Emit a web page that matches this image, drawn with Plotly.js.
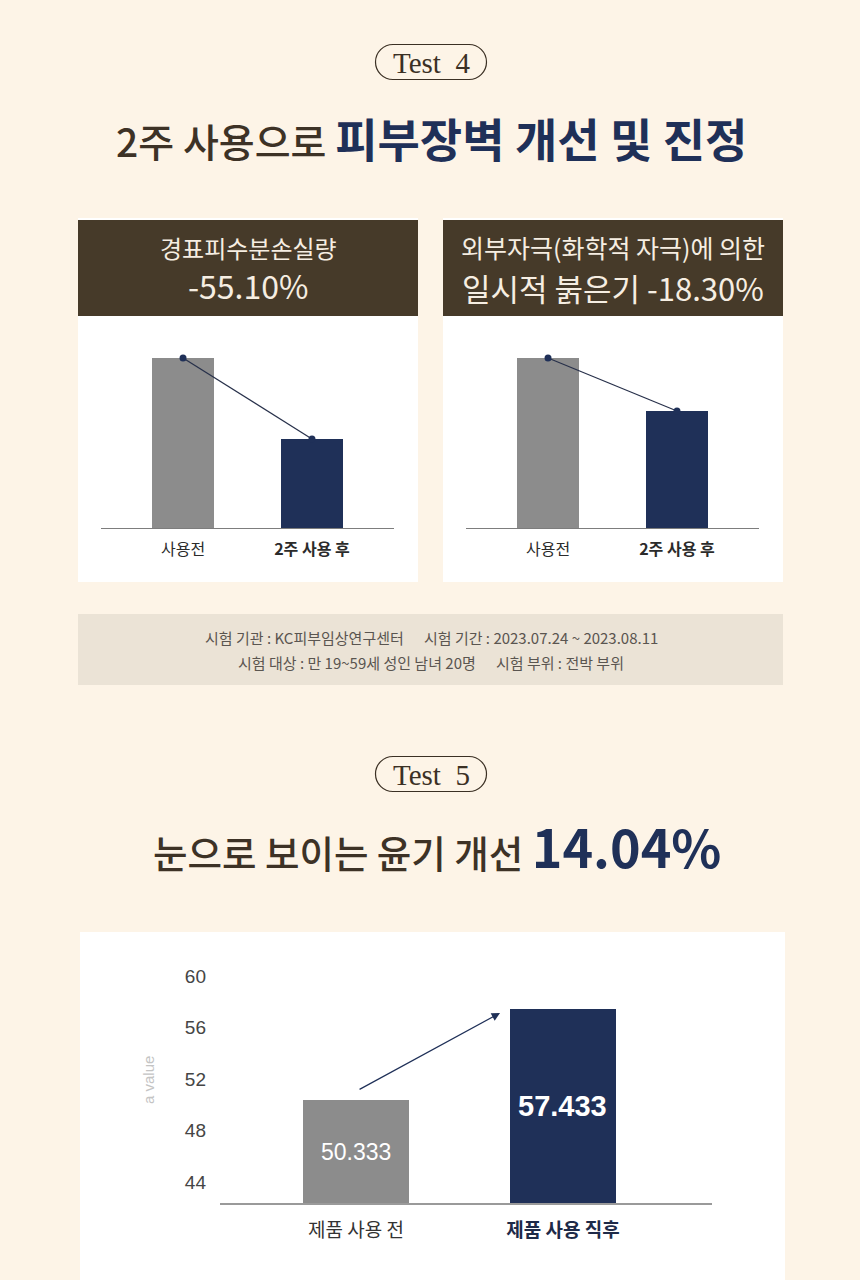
<!DOCTYPE html>
<html>
<head>
<meta charset="utf-8">
<script src="https://cdn.plot.ly/plotly-3.0.1.min.js"></script>
<style>
  html, body { margin: 0; padding: 0; background: #fdf4e7; }
  #chart { width: 860px; height: 1280px; }
</style>
</head>
<body>
<div id="chart"></div>
<script>
// Test 4 — skin barrier (TEWL) and redness, relative levels before / after 2 weeks
const barrierCats = ['사용전', '2주 사용 후'];
const tewlVals = [100, 52.4];
const rednessVals = [100, 68.8];

// Test 5 — visible gloss before / right after use
const glossCats = ['제품 사용 전', '제품 사용 직후'];
const glossVals = [50.333, 57.433];
const glossTicks = [44, 48, 52, 56, 60];
const glossRange = [42.37, 60.78];

const W = 860, H = 1280;
const px = x => x / W;
const py = y => 1 - y / H;

const BG = '#fdf4e7';
const BROWN = '#463a29';
const NAVY = '#1f3058';
const GREY_BAR = '#8c8c8c';
const TEXT_BROWN = '#3d3226';
const KR = '"Noto Sans CJK KR", "Noto Sans", sans-serif';
const LAT = '"Liberation Sans", Arial, sans-serif';
const SERIF = '"Liberation Serif", "DejaVu Serif", serif';

// rounded "pill" outline around the Test labels
function pill(cx, cy, w, h) {
  const r = h / 2, k = 0.5523 * r;
  const L = cx - w / 2 + r, R = cx + w / 2 - r, T = cy - h / 2, B = cy + h / 2;
  const p = (x, y) => px(x) + ',' + py(y);
  return 'M' + p(L, T) + ' L' + p(R, T) +
    ' C' + p(R + k, T) + ' ' + p(R + r, cy - k) + ' ' + p(R + r, cy) +
    ' C' + p(R + r, cy + k) + ' ' + p(R + k, B) + ' ' + p(R, B) +
    ' L' + p(L, B) +
    ' C' + p(L - k, B) + ' ' + p(L - r, cy + k) + ' ' + p(L - r, cy) +
    ' C' + p(L - r, cy - k) + ' ' + p(L - k, T) + ' ' + p(L, T) + ' Z';
}
function box(x0, y0, x1, y1, color) {
  return { type: 'rect', xref: 'paper', yref: 'paper', layer: 'below',
    x0: px(x0), x1: px(x1), y0: py(y1), y1: py(y0),
    fillcolor: color, line: { width: 0 } };
}

const boldSecond = cats => cats.map((c, i) => i === 1 ? '<b>' + c + '</b>' : c);

function barPair(vals, xa, ya) {
  return [
    { type: 'bar', x: barrierCats, y: vals, xaxis: xa, yaxis: ya, width: 0.48,
      marker: { color: [GREY_BAR, NAVY], line: { width: 0 } }, hoverinfo: 'skip' },
    { type: 'scatter', mode: 'lines+markers', x: barrierCats, y: vals, xaxis: xa, yaxis: ya,
      line: { color: '#27304a', width: 1.2 }, marker: { color: NAVY, size: 7 },
      cliponaxis: false, hoverinfo: 'skip' }
  ];
}

const traces = [
  ...barPair(tewlVals, 'x', 'y'),
  ...barPair(rednessVals, 'x2', 'y2'),
  { type: 'bar', x: glossCats, y: glossVals, xaxis: 'x3', yaxis: 'y3', width: 0.512,
    marker: { color: [GREY_BAR, NAVY], line: { width: 0 } },
    textposition: 'none', hoverinfo: 'skip' }
];

// value labels centred in the visible part of each gloss bar
const glossLabels = glossVals.map((v, i) => ({
  xref: 'x3', yref: 'y3', x: glossCats[i], y: (glossRange[0] + v) / 2,
  xanchor: 'center', yanchor: 'middle', showarrow: false,
  text: i === 1 ? '<b>' + v.toFixed(3) + '</b>' : v.toFixed(3),
  font: { family: LAT, size: i === 1 ? 29 : 23, color: '#ffffff' }
}));

const smallX = (domain, anchor) => ({
  domain: domain, anchor: anchor, type: 'category',
  range: [-0.636, 1.636], showline: true, linecolor: '#7d7d7d', linewidth: 1.2,
  showgrid: false, zeroline: false, ticks: '',
  tickvals: barrierCats, ticktext: boldSecond(barrierCats),
  tickfont: { family: KR, size: 16, color: '#2b2b2b' }, ticklabelstandoff: 7
});
const smallY = anchor => ({
  domain: [py(528), py(324)], anchor: anchor, range: [0, 120],
  showgrid: false, zeroline: false, showline: false, showticklabels: false, ticks: ''
});

const ann = (x, y, text, size, color, family, extra) => Object.assign({
  xref: 'paper', yref: 'paper', x: px(x), y: py(y), xanchor: 'center', yanchor: 'middle',
  text: text, showarrow: false, font: { family: family || KR, size: size, color: color }
}, extra || {});

const SP = '\u00a0\u00a0\u00a0\u00a0\u00a0\u00a0';

const layout = {
  width: W, height: H,
  margin: { l: 0, r: 0, t: 0, b: 0, pad: 0 },
  paper_bgcolor: BG, plot_bgcolor: 'rgba(0,0,0,0)',
  showlegend: false, bargap: 0,
  xaxis: smallX([px(101), px(394)], 'y'),
  yaxis: smallY('x'),
  xaxis2: smallX([px(466), px(759)], 'y2'),
  yaxis2: smallY('x2'),
  xaxis3: {
    domain: [px(220), px(712)], anchor: 'y3', type: 'category',
    range: [-0.657, 1.72], showline: true, linecolor: '#9a9a9a', linewidth: 1.5,
    showgrid: false, zeroline: false, ticks: '',
    tickvals: glossCats,
    ticktext: [glossCats[0], '<b><span style="color:#1e2a48">' + glossCats[1] + '</span></b>'],
    tickfont: { family: KR, size: 19, color: '#333333' }, ticklabelstandoff: 10
  },
  yaxis3: {
    domain: [py(1203), py(966)], anchor: 'x3', range: glossRange,
    tickvals: glossTicks, ticktext: glossTicks.map(String),
    tickfont: { family: LAT, size: 19, color: '#454545' },
    showgrid: false, zeroline: false, showline: false, ticks: '', ticklabelstandoff: 13
  },
  shapes: [
    // Test 4 cards
    box(78, 218, 418, 582, '#ffffff'),
    box(78, 220, 418, 316, BROWN),
    box(443, 218, 783, 582, '#ffffff'),
    box(443, 220, 783, 316, BROWN),
    // test conditions strip
    box(78, 614, 783, 685, '#ebe3d6'),
    // Test 5 card
    box(80, 932, 785, 1280, '#ffffff'),
    { type: 'path', xref: 'paper', yref: 'paper', path: pill(431, 62, 111, 35),
      line: { color: '#3b3024', width: 1.2 }, fillcolor: 'rgba(0,0,0,0)' },
    { type: 'path', xref: 'paper', yref: 'paper', path: pill(431, 774, 111, 35),
      line: { color: '#3b3024', width: 1.2 }, fillcolor: 'rgba(0,0,0,0)' }
  ],
  annotations: [
    ann(431, 63, 'Test\u00a0\u00a04', 29, '#3b3024', SERIF),
    ann(431, 137, '<span style="color:' + TEXT_BROWN + ';font-weight:500">2주 사용으로 </span>' +
      '<b><span style="color:' + NAVY + ';font-size:46px">피부장벽 개선 및 진정</span></b>', 39, TEXT_BROWN),
    ann(248, 247, '경표피수분손실량', 24, '#f6eee2'),
    ann(248, 285, '-55.10%', 32, '#f6eee2'),
    ann(613, 247, '외부자극(화학적 자극)에 의한', 25, '#f6eee2'),
    ann(613, 287, '일시적 붉은기 -18.30%', 31, '#f6eee2'),
    ann(431, 637, '시험 기관 : KC피부임상연구센터' + SP + '시험 기간 : 2023.07.24 ~ 2023.08.11', 15, '#5a5550'),
    ann(431, 662, '시험 대상 : 만 19~59세 성인 남녀 20명' + SP + '시험 부위 : 전박 부위', 15, '#5a5550'),
    ann(431, 775, 'Test\u00a0\u00a05', 29, '#3b3024', SERIF),
    ann(437, 845, '<span style="color:' + TEXT_BROWN + ';font-weight:500">눈으로 보이는 윤기 개선 </span>' +
      '<b><span style="color:' + NAVY + ';font-size:52px">14.04%</span></b>', 37.5, TEXT_BROWN),
    ann(148, 1080, 'a value', 15, '#c4c4c4', LAT, { textangle: -90 }),
    ...glossLabels,
    // rising arrow from the first bar toward the second
    { xref: 'x3', yref: 'y3', axref: 'x3', ayref: 'y3',
      x: 0.696, y: glossVals[1] - 0.3, ax: 0.01, ay: glossVals[0] + 0.8,
      text: '', showarrow: true, arrowhead: 2, arrowsize: 1.4, arrowwidth: 1.2,
      arrowcolor: NAVY, standoff: 0, startstandoff: 0 }
  ]
};

Plotly.newPlot('chart', traces, layout, { staticPlot: true, displayModeBar: false });
</script>
</body>
</html>
